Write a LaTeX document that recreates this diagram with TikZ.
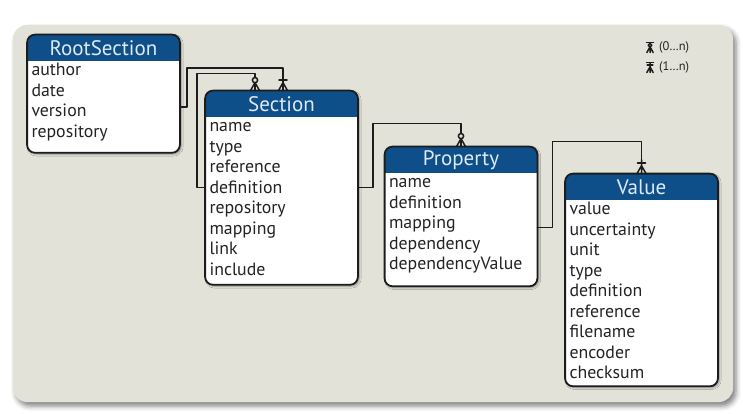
\documentclass[tikz,border=0pt]{standalone}
\usepackage{fontspec}
\setmainfont{PT Sans}
\usetikzlibrary{positioning,fit,backgrounds,shadows.blur}

\definecolor{panelgray}{RGB}{226,226,217}
\definecolor{headblue}{RGB}{14,79,138}
\definecolor{headtext}{RGB}{222,233,243}
\definecolor{rowtext}{RGB}{35,35,35}
\definecolor{linegray}{RGB}{28,28,28}

\tikzset{
  head/.style={minimum width=152pt, minimum height=26pt, inner sep=0pt,
    text=headtext, font=\fontsize{21}{22}\selectfont},
  rows/.style={below=0pt of #1, text width=144pt, inner xsep=4pt, inner ysep=0pt,
    align=left, text=rowtext, font=\fontsize{17.8}{20.5}\selectfont,
    execute at begin node=\strut, execute at end node=\strut},
  boxframe/.style={inner sep=0pt, rounded corners=8pt, fill=white,
    blur shadow={shadow xshift=1.5pt, shadow yshift=-1.5pt, shadow blur radius=2pt, shadow opacity=40}},
  boxline/.style={draw=linegray, line width=1.8pt, rounded corners=8pt},
  link/.style={draw=linegray, line width=1.5pt},
  zeromany/.pic={
    \draw[link] (-4.5,0) -- (0,-8) -- (4.5,0) (0,0) -- (0,-14);
    \draw[link, fill=panelgray] (0,-10.5) circle (2.6);
  },
  onemany/.pic={
    \draw[link] (-4.5,0) -- (0,-8) -- (4.5,0) (0,0) -- (0,-14);
    \draw[link] (-4,-10.5) -- (4,-10.5);
  },
}

\begin{document}
\begin{tikzpicture}[x=1pt, y=-1pt, line cap=round, line join=round]
  \useasboundingbox (0,0) rectangle (743,414);

  % the four tables
  \node[head] (root-head) at (103.5,48) {RootSection};
  \node[rows=root-head] (root) {author\\date\\version\\repository};

  \node[head] (sec-head) at (281.5,104) {Section};
  \node[rows=sec-head] (sec) {name\\type\\reference\\definition\\repository\\mapping\\link\\include};

  \node[head] (prop-head) at (461,160) {Property};
  \node[rows=prop-head] (prop) {name\\definition\\mapping\\dependency\\dependencyValue};

  \node[head] (val-head) at (641.5,187) {Value};
  \node[rows=val-head] (val) {value\\uncertainty\\unit\\type\\definition\\reference\\filename\\encoder\\checksum};

  % panel, white boxes and blue heads
  \begin{scope}[on background layer]
    \fill[panelgray, rounded corners=14pt,
      blur shadow={shadow xshift=3pt, shadow yshift=-4pt, shadow blur radius=5pt, shadow opacity=50}]
      (13,25) rectangle (733,402);
    \foreach \e/\pad in {root/9,sec/3,prop/10,val/1} {
      \node[boxframe, fit={(\e-head) ([yshift=-\pad pt]\e.south east)}] (\e-box) {};
      \begin{scope}
        \clip[rounded corners=8pt] (\e-box.north west) rectangle (\e-box.south east);
        \fill[headblue] (\e-head.north west) rectangle (\e-head.south east);
      \end{scope}
    }
  \end{scope}

  \foreach \e in {root,sec,prop,val}
    \draw[boxline] (\e-box.north west) rectangle (\e-box.south east);

  % the links
  \draw[link] ([yshift=-13.5pt]root-box.east) -- ++(7,0) -- ++(0,-39) -| ([xshift=1.5pt]sec-box.north);
  \draw[link] (sec-box.west) -- ++(-8,0) -- ++(0,-114) -| ([xshift=-26.5pt]sec-box.north);
  \draw[link] (sec-box.east) -- ++(15,0) -- ++(0,-64) -| (prop-box.north);
  \draw[link] ([yshift=-11pt]prop-box.east) -- ++(15,0) -- ++(0,-86) -| (val-box.north);

  \pic at ([xshift=1.5pt]sec-box.north) {onemany};
  \pic at ([xshift=-26.5pt]sec-box.north) {zeromany};
  \pic at (prop-box.north) {zeromany};
  \pic at (val-box.north) {onemany};

  % legend
  \pic[scale=0.7] at (650,52.5) {zeromany};
  \draw[link, line width=1.2pt] (646.5,42.5) -- (653.5,42.5);
  \pic[scale=0.7] at (650,72.5) {onemany};
  \draw[link, line width=1.2pt] (646.5,62.5) -- (653.5,62.5);
  \node[anchor=west, text=rowtext, font=\fontsize{12.5}{13}\selectfont] (legend-zero) at (655.5,47) {(0…n)};
  \node[anchor=west, text=rowtext, font=\fontsize{12.5}{13}\selectfont] (legend-one) at (655.5,67) {(1…n)};
\end{tikzpicture}
\end{document}
